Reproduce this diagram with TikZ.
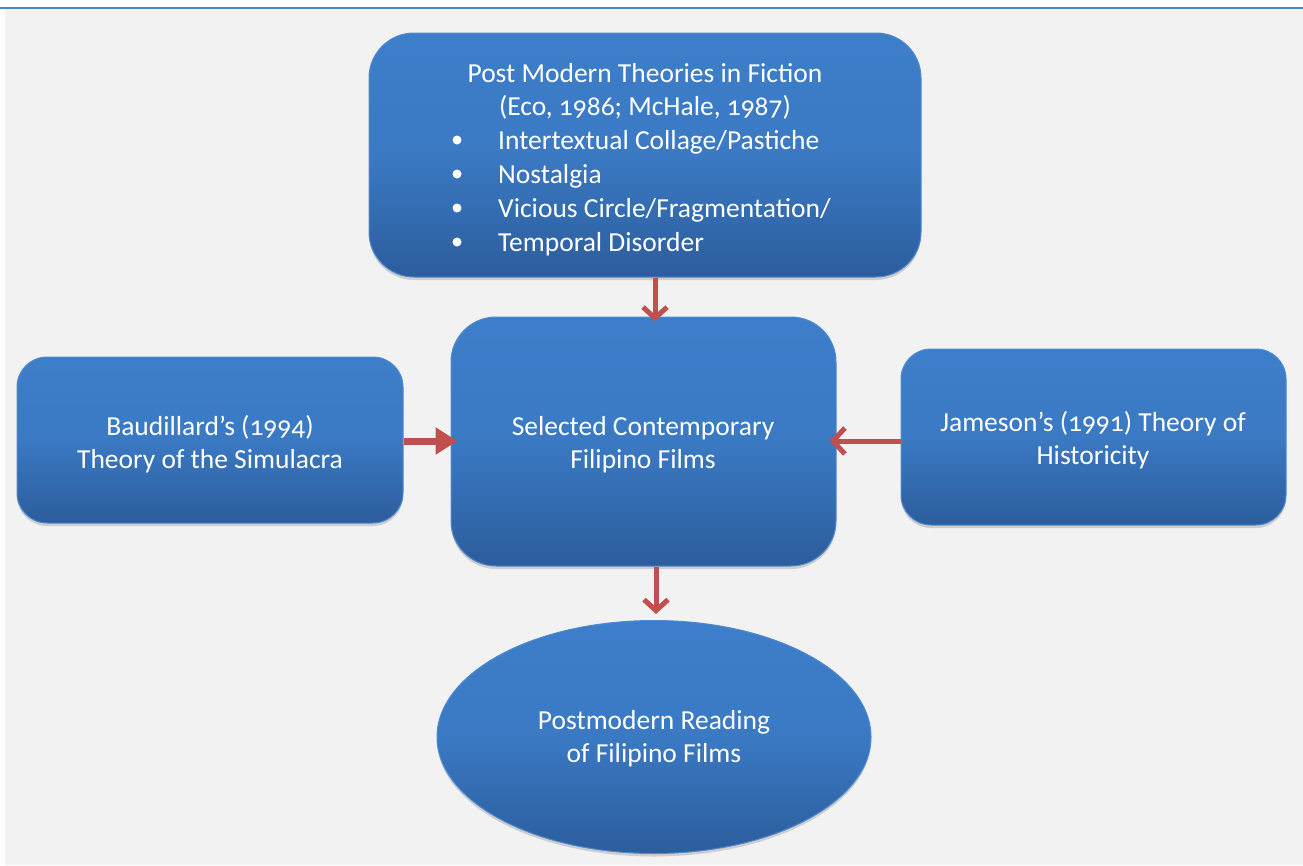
\documentclass[tikz,border=0pt]{standalone}
\usepackage{fontspec}
\setmainfont{Carlito}[Numbers=OldStyle]
\usetikzlibrary{shadows,arrows.meta,shapes.geometric}
\definecolor{boxtop}{HTML}{3D7ECA}
\definecolor{boxbot}{HTML}{2C5D9C}
\definecolor{boxedge}{HTML}{4F8AD0}
\definecolor{arrowred}{HTML}{C0504D}
\definecolor{bg}{HTML}{F2F2F2}
\definecolor{rule}{HTML}{4A86C8}
\tikzset{
  bluebox/.style={draw=boxedge, line width=1pt, top color=boxtop, bottom color=boxbot, middle color=boxtop!85!boxbot, shading angle=0,
    drop shadow={shadow xshift=0pt, shadow yshift=-3pt, opacity=0.25, fill=black!60}},
  txt/.style={text=white, font=\fontsize{27.5}{33}\selectfont, align=center, inner sep=0pt},
  btxt/.style={text=white, font=\fontsize{27.5}{33}\selectfont, anchor=base west, inner sep=0pt},
  bul/.style={circle, fill=white, inner sep=0pt, minimum size=9pt},
  redarrow/.style={draw=arrowred, line width=5pt},
}
\begin{document}
\begin{tikzpicture}[x=1pt,y=-1pt]
\useasboundingbox (0,0) rectangle (1303,865);
\fill[white] (0,0) rectangle (1303,865);
\fill[bg] (5,9) rectangle (1303,865);
\draw[rule, line width=2pt] (0,8) -- (1303,8);
% boxes
\node[bluebox, rounded corners=45pt, minimum width=552pt, minimum height=244pt] (top) at (645,155) {};
\node[bluebox, rounded corners=45pt, minimum width=385pt, minimum height=249pt] (mid) at (643.5,441.5) {};
\node[bluebox, rounded corners=30pt, minimum width=386pt, minimum height=166pt] (left) at (210,440) {};
\node[bluebox, rounded corners=30pt, minimum width=385pt, minimum height=176pt] (right) at (1093.5,437) {};
\node[bluebox, ellipse, minimum width=434pt, minimum height=233pt] (ell) at (654,737) {};
% texts
\node[txt] (t1) at (645,73) {Post Modern Theories in Fiction};
\node[txt] (t2) at (645,107) {(Eco, 1986; McHale, 1987)};
\node[bul] (d1) at (457,140) {};
\node[bul] (d2) at (457,174) {};
\node[bul] (d3) at (457,208) {};
\node[bul] (d4) at (457,242) {};
\node[btxt] (b1) at (498,149) {Intertextual Collage/Pastiche};
\node[btxt] (b2) at (498,183) {Nostalgia};
\node[btxt] (b3) at (498,217) {Vicious Circle/Fragmentation/};
\node[btxt] (b4) at (498,251) {Temporal Disorder};
\node[txt] (mt) at (643,445) {Selected Contemporary\\Filipino Films};
\node[txt] (lt) at (210,444) {Baudillard’s (1994)\\Theory of the Simulacra};
\node[txt] (rt) at (1093,440) {Jameson’s (1991) Theory of\\Historicity};
\node[txt] (et) at (654,739) {Postmodern Reading\\of Filipino Films};
% arrows
\draw[redarrow, -{Straight Barb[length=11pt,width=24pt,line width=5pt]}] ([xshift=10pt]top.south) -- ([xshift=11.5pt,yshift=-5pt]mid.north);
\draw[redarrow, -{Straight Barb[length=11pt,width=24pt,line width=5pt]}] ([xshift=12.5pt]mid.south) -- ([xshift=2pt,yshift=6pt]ell.north);
\draw[arrowred, line width=7pt, -{Triangle[length=22pt,width=26pt]}] ([yshift=-1pt]left.east) -- ([xshift=7pt,yshift=0.5pt]mid.west);
\draw[redarrow, -{Straight Barb[length=12pt,width=26pt,line width=5pt]}] ([yshift=-4pt]right.west) -- ([xshift=-7pt,yshift=0.5pt]mid.east);
\end{tikzpicture}
\end{document}
